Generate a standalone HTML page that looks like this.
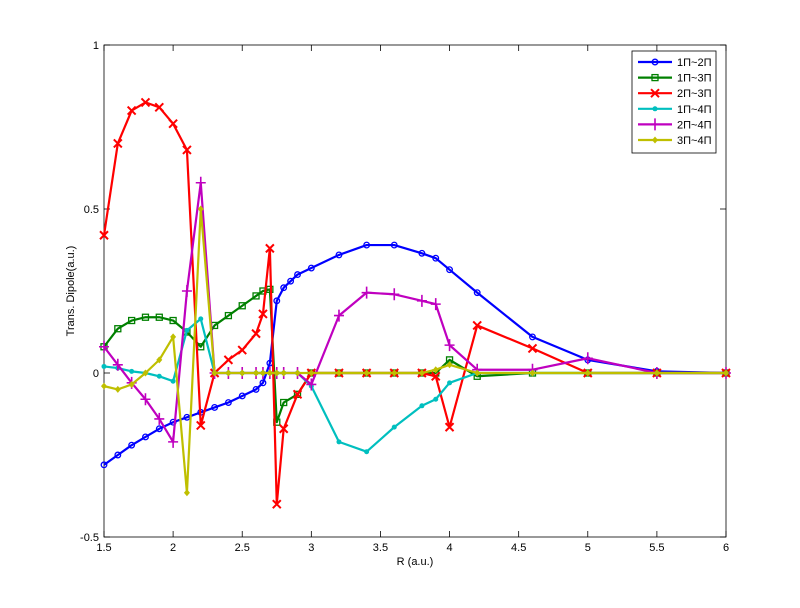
<!DOCTYPE html>
<html><head><meta charset="utf-8"><style>
body{margin:0;background:#fff;}
svg text{font-family:"Liberation Sans",sans-serif;font-size:11px;fill:#000;}
</style></head><body>
<svg id="chart" width="800" height="603" xmlns="http://www.w3.org/2000/svg">
<rect x="0" y="0" width="800" height="603" fill="#fff"/>
<g id="grid"></g>
<g id="series"></g>
<g id="legend"></g>
</svg>
<script>
const xTicks=[1.5,2,2.5,3,3.5,4,4.5,5,5.5,6];
const xTickLabels=["1.5","2","2.5","3","3.5","4","4.5","5","5.5","6"];
const yTicks=[-0.5,0,0.5,1];
const yTickLabels=["-0.5","0","0.5","1"];
const xs=[1.5,1.6,1.7,1.8,1.9,2.0,2.1,2.2,2.3,2.4,2.5,2.6,2.65,2.7,2.75,2.8,2.9,3.0,3.2,3.4,3.6,3.8,3.9,4.0,4.2,4.6,5.0,5.5,6.0];
const xsBlue=[1.5,1.6,1.7,1.8,1.9,2.0,2.1,2.2,2.3,2.4,2.5,2.6,2.65,2.7,2.75,2.8,2.85,2.9,3.0,3.2,3.4,3.6,3.8,3.9,4.0,4.2,4.6,5.0,5.5,6.0];
const blue=[-0.28,-0.25,-0.22,-0.195,-0.17,-0.15,-0.135,-0.12,-0.105,-0.09,-0.07,-0.05,-0.03,0.03,0.22,0.26,0.28,0.30,0.32,0.36,0.39,0.39,0.365,0.35,0.315,0.245,0.11,0.04,0.005,0];
const green=[0.08,0.135,0.16,0.17,0.17,0.16,0.125,0.08,0.145,0.175,0.205,0.235,0.25,0.255,-0.15,-0.09,-0.065,0,0,0,0,0,0,0.04,-0.01,0,0,0,0];
const red=[0.42,0.70,0.80,0.825,0.81,0.76,0.68,-0.16,0,0.04,0.07,0.12,0.18,0.38,-0.40,-0.17,-0.065,0,0,0,0,0,-0.01,-0.165,0.145,0.075,0,0,0];
const cyan=[0.02,0.015,0.005,0,-0.01,-0.025,0.13,0.165,0,0,0,0,0,0,0,0,0,-0.04,-0.21,-0.24,-0.165,-0.1,-0.08,-0.03,0,0,0,0,0];
const magenta=[0.08,0.025,-0.03,-0.08,-0.14,-0.21,0.25,0.58,0,0,0,0,0,0,0,0,0,-0.035,0.175,0.245,0.24,0.22,0.21,0.085,0.01,0.01,0.045,0,0];
const yellow=[-0.04,-0.05,-0.035,0,0.04,0.11,-0.365,0.5,0,0,0,0,0,0,0,0,0,0,0,0,0,0,0.01,0.025,0,0,0,0,0];
const seriesNames=["1Π~2Π","1Π~3Π","2Π~3Π","1Π~4Π","2Π~4Π","3Π~4Π"];

const L=104,R=726,T=45,B=537;
const X=v=>L+(v-1.5)/4.5*(R-L);
const Y=v=>B-(v+0.5)/1.5*(B-T);
const NS="http://www.w3.org/2000/svg";
function mk(tag,attrs,parent){const e=document.createElementNS(NS,tag);for(const k in attrs)e.setAttribute(k,attrs[k]);parent.appendChild(e);return e;}
const grid=document.getElementById('grid'),sg=document.getElementById('series'),lg=document.getElementById('legend');

const frame=mk('rect',{x:L,y:T,width:R-L,height:B-T,fill:'none',stroke:'#000','stroke-width':0.8},grid);


xTicks.forEach((t,i)=>{
  mk('line',{x1:X(t),x2:X(t),y1:B,y2:B-6,stroke:'#000','stroke-width':0.8},grid);
  mk('line',{x1:X(t),x2:X(t),y1:T,y2:T+6,stroke:'#000','stroke-width':0.8},grid);
  const tx=mk('text',{x:X(t),y:B+14,'text-anchor':'middle'},grid);tx.textContent=xTickLabels[i];
  
  
});
yTicks.forEach((t,i)=>{
  mk('line',{x1:L,x2:L+6,y1:Y(t),y2:Y(t),stroke:'#000','stroke-width':0.8},grid);
  mk('line',{x1:R,x2:R-6,y1:Y(t),y2:Y(t),stroke:'#000','stroke-width':0.8},grid);
  const tx=mk('text',{x:L-5,y:Y(t)+4,'text-anchor':'end'},grid);tx.textContent=yTickLabels[i];
  
  
});
const xt=mk('text',{x:415,y:565,'text-anchor':'middle'},grid);xt.textContent='R (a.u.)';


const yt=mk('text',{x:74,y:291,'text-anchor':'middle',transform:'rotate(-90 74 291)'},grid);yt.textContent='Trans. Dipole(a.u.)';



function marker(type,cx,cy,color,parent){
  if(type==='o')mk('circle',{cx,cy,r:2.8,fill:'none',stroke:color,'stroke-width':1.3},parent);
  else if(type==='s')mk('rect',{x:cx-3,y:cy-3,width:6,height:6,fill:'none',stroke:color,'stroke-width':1.3},parent);
  else if(type==='x')mk('path',{d:`M${cx-4},${cy-4}L${cx+4},${cy+4}M${cx-4},${cy+4}L${cx+4},${cy-4}`,stroke:color,'stroke-width':2},parent);
  else if(type==='.')mk('circle',{cx,cy,r:2.5,fill:color},parent);
  else if(type==='+')mk('path',{d:`M${cx-5},${cy}L${cx+5},${cy}M${cx},${cy-6}L${cx},${cy+6}`,stroke:color,'stroke-width':1.6},parent);
  else if(type==='d')mk('path',{d:`M${cx},${cy-3.5}L${cx+3},${cy}L${cx},${cy+3.5}L${cx-3},${cy}Z`,fill:color},parent);
}
const defs=[
 {n:'series-1pi-2pi',xv:xsBlue,yv:blue,c:'#0000ff',m:'o'},
 {n:'series-1pi-3pi',xv:xs,yv:green,c:'#008000',m:'s'},
 {n:'series-2pi-3pi',xv:xs,yv:red,c:'#ff0000',m:'x'},
 {n:'series-1pi-4pi',xv:xs,yv:cyan,c:'#00bfbf',m:'.'},
 {n:'series-2pi-4pi',xv:xs,yv:magenta,c:'#bf00bf',m:'+'},
 {n:'series-3pi-4pi',xv:xs,yv:yellow,c:'#bfbf00',m:'d'}
];
defs.forEach((d,si)=>{
  const g=mk('g',{},sg);
  
  
  mk('polyline',{points:d.yv.map((v,i)=>X(d.xv[i])+','+Y(v)).join(' '),fill:'none',stroke:d.c,'stroke-width':2.2,'stroke-linejoin':'round'},g);
  d.yv.forEach((v,i)=>marker(d.m,X(d.xv[i]),Y(v),d.c,g));
  // legend entry
  const ly=62+si*15.6;
  const le=mk('g',{},lg);
  
  
  mk('line',{x1:638,x2:672,y1:ly,y2:ly,stroke:d.c,'stroke-width':2.2},le);
  marker(d.m,655,ly,d.c,le);
  const t=mk('text',{x:677,y:ly+4},le);t.textContent=seriesNames[si];
});
const lb=mk('rect',{x:632,y:51,width:84,height:102,fill:'none',stroke:'#000','stroke-width':0.8},lg);


</script>
</body></html>
